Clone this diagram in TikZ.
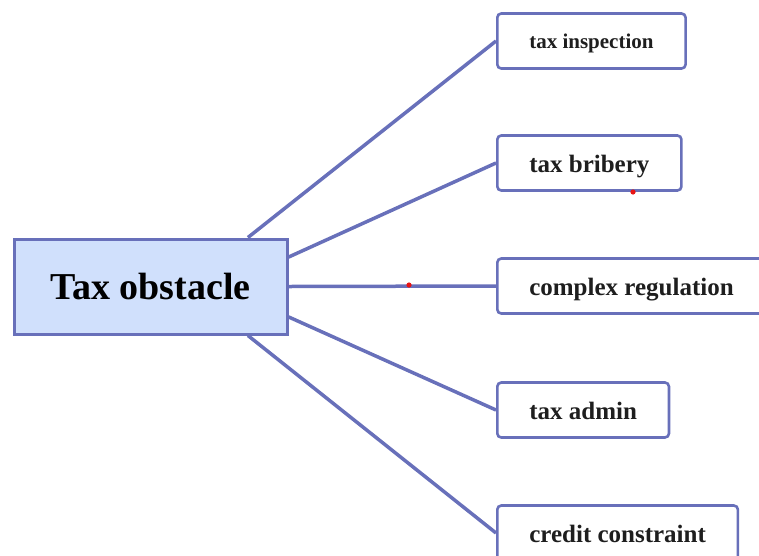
\documentclass[tikz,border=0pt]{standalone}
\usepackage{fontspec}
\setmainfont{Liberation Serif}
\usetikzlibrary{calc,backgrounds}
\definecolor{edgeblue}{RGB}{104,112,186}
\definecolor{hubfill}{RGB}{208,224,252}
\definecolor{txt}{RGB}{30,30,30}
\definecolor{dotred}{RGB}{232,20,20}
\tikzset{
  hub/.style={draw=edgeblue, line width=3pt, fill=hubfill, minimum width=273pt, minimum height=95pt, inner sep=0pt,
    font=\fontsize{38}{42}\selectfont\bfseries, text=black},
  leaf/.style={draw=edgeblue, line width=2.6pt, fill=white, rounded corners=4pt, anchor=west, inner xsep=32pt,
    inner ysep=0pt, minimum height=55pt, text height=22.5pt, text depth=4.5pt,
    font=\fontsize{25}{28}\selectfont\bfseries, text=txt},
  smallleaf/.style={leaf, text height=19pt, text depth=4.5pt, font=\fontsize{21}{24}\selectfont\bfseries},
  link/.style={draw=edgeblue, line width=3.5pt},
}
\begin{document}
\begin{tikzpicture}[x=1pt,y=-1pt]
\useasboundingbox (0,0) rectangle (759,555);
\clip (0,0) rectangle (759,555);
\node[hub] (c) at (150.5,286.5) {Tax obstacle};
\node[smallleaf] (l1) at (496,41) {tax inspection};
\node[leaf] (l2) at (496,163) {tax bribery};
\node[leaf] (l3) at (496,286) {complex regulation};
\node[leaf] (l4) at (496,410) {tax admin};
\node[leaf] (l5) at (496,533) {credit constraint};
\coordinate (s1) at ($(c.north west)!0.853!(c.north east)$);
\coordinate (s5) at ($(c.south west)!0.853!(c.south east)$);
\coordinate (s2) at ($(c.north east)!0.2!(c.south east)$);
\coordinate (s3) at ($(c.north east)!0.5!(c.south east)$);
\coordinate (s4) at ($(c.north east)!0.81!(c.south east)$);
\begin{scope}[on background layer]
\draw[link] (s1) -- (l1.west);
\draw[link] (s2) -- (l2.west);
\draw[link] (s3) -- (l3.west);
\draw[link] (s4) -- (l4.west);
\draw[link] (s5) -- (l5.west);
\end{scope}
\fill[dotred] (409,285) circle (2.6pt);
\fill[dotred] (633,192) circle (2.6pt);
\end{tikzpicture}
\end{document}
